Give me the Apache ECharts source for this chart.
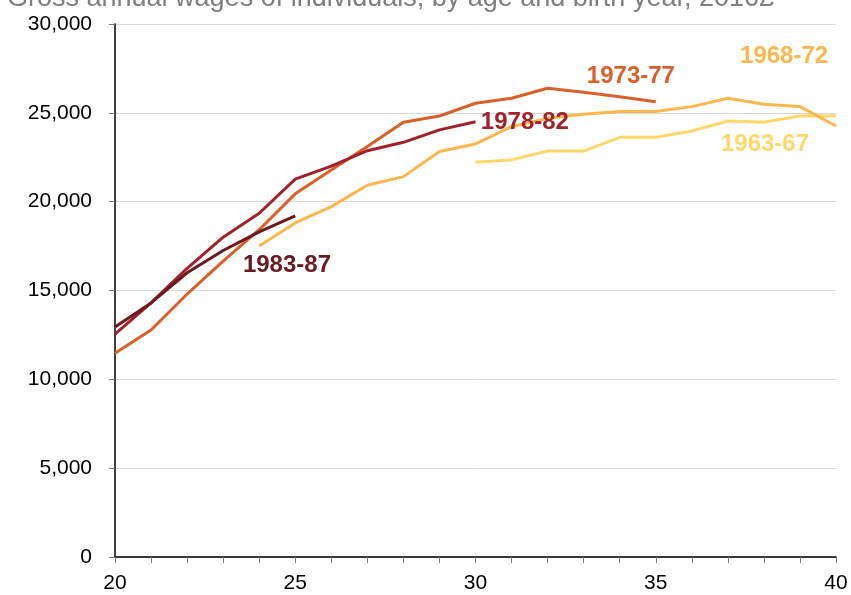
<!DOCTYPE html>
<html>
<head>
<meta charset="utf-8">
<script src="https://cdn.jsdelivr.net/npm/echarts@6/dist/echarts.min.js"></script>
<style>
  html, body { margin: 0; padding: 0; background: #fff; }
  #chart { width: 851px; height: 595px; }
</style>
</head>
<body>
<div id="chart"></div>
<script>
// ages run from 20 to 40, one point per year of age
const ages = [20, 21, 22, 23, 24, 25, 26, 27, 28, 29, 30, 31, 32, 33, 34, 35, 36, 37, 38, 39, 40]

// gross annual wages (£) by birth cohort
const cohort8387 = [12950, 14300, 16000, 17250, 18300, 19200]
const cohort7882 = [12550, 14300, 16250, 18000, 19350, 21270, 22000, 22870, 23340, 24040, 24500]
const cohort7377 = [11470, 12780, 14800, 16650, 18420, 20440, 21780, 23100, 24470, 24820, 25540,
  25820, 26380, 26160, 25910, 25630]
const cohort6872 = [17500, 18800, 19720, 20920, 21410, 22820, 23250, 24220, 24690, 24920, 25070,
  25070, 25350, 25820, 25480, 25350, 24260]
const cohort6367 = [22220, 22350, 22850, 22850, 23620, 23620, 23980, 24540, 24470, 24820, 24840]

// first age of each cohort's line
const startAge = { '1983-87': 20, '1978-82': 20, '1973-77': 20, '1968-72': 24, '1963-67': 30 }

// where each cohort's name sits, in [age, wage]
const labelAt = {
  '1983-87': [24.77, 16440],
  '1978-82': [31.37, 24490],
  '1973-77': [34.31, 27080],
  '1968-72': [38.56, 28150],
  '1963-67': [38.03, 23250]
}

const yTicks = [0, 5000, 10000, 15000, 20000, 25000, 30000]

const cohorts = [
  { name: '1963-67', values: cohort6367, color: '#FFD86B' },
  { name: '1968-72', values: cohort6872, color: '#FDB74E' },
  { name: '1973-77', values: cohort7377, color: '#D9602A' },
  { name: '1978-82', values: cohort7882, color: '#A0222B' },
  { name: '1983-87', values: cohort8387, color: '#6B1A1F' }
]

const chart = echarts.init(document.getElementById('chart'))

const series = cohorts.map(c => {
  const first = ages.indexOf(startAge[c.name])
  return {
    name: c.name,
    type: 'line',
    data: c.values.map((v, i) => [ages[first + i], v]),
    showSymbol: false,
    lineStyle: { color: c.color, width: 3 },
    itemStyle: { color: c.color },
    animation: false,
    markPoint: {
      symbol: 'circle',
      symbolSize: 0,
      data: [{ coord: labelAt[c.name] }],
      label: {
        show: true,
        position: 'inside',
        formatter: c.name,
        color: c.color,
        fontFamily: 'Liberation Sans',
        fontWeight: 'bold',
        fontSize: 24
      }
    }
  }
})

chart.setOption({
  animation: false,
  title: {
    text: 'Gross annual wages of individuals, by age and birth year, 2016£',
    left: 2,
    top: -20,
    textStyle: {
      color: '#7F7F7F',
      fontFamily: 'Liberation Sans',
      fontWeight: 'normal',
      fontSize: 27
    }
  },
  grid: { left: 115, right: 15, top: 24, bottom: 38, containLabel: false },
  xAxis: {
    type: 'value',
    min: 20,
    max: 40,
    interval: 5,
    axisLine: { show: true, lineStyle: { color: '#000', width: 1.5 } },
    axisTick: { show: true, length: 6, lineStyle: { color: '#777' } },
    minorTick: { show: true, splitNumber: 5, length: 6, lineStyle: { color: '#777' } },
    splitLine: { show: false },
    axisLabel: {
      color: '#000',
      fontFamily: 'Liberation Sans',
      fontSize: 21,
      margin: 16
    }
  },
  yAxis: {
    type: 'value',
    min: yTicks[0],
    max: yTicks[yTicks.length - 1],
    interval: 5000,
    axisLine: { show: true, lineStyle: { color: '#000', width: 1.5 } },
    axisTick: { show: true, length: 6, lineStyle: { color: '#777' } },
    splitLine: { show: true, lineStyle: { color: '#D9D9D9', width: 1 } },
    axisLabel: {
      color: '#000',
      fontFamily: 'Liberation Sans',
      fontSize: 21,
      margin: 23,
      formatter: v => v.toLocaleString('en-GB')
    }
  },
  series: series
})
</script>
</body>
</html>
